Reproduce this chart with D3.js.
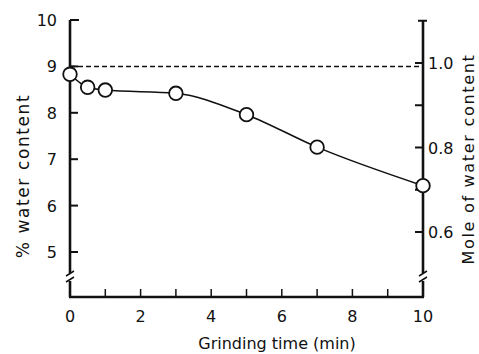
<!DOCTYPE html>
<html>
<head>
<meta charset="utf-8">
<script src="https://cdn.jsdelivr.net/npm/d3@7"></script>
<style>
  body { margin: 0; background: #fff; }
  text { font-family: "DejaVu Sans", sans-serif; fill: #111; }
</style>
</head>
<body>
<div id="chart"></div>
<script>
// data
var grind_time = [0, 0.5, 1, 3, 5, 7, 10];
var water_pct = [8.83, 8.55, 8.49, 8.42, 7.96, 7.26, 6.43];
var x_ticks = [0, 1, 2, 3, 4, 5, 6, 7, 8, 9, 10];
var x_labels = [0, 2, 4, 6, 8, 10];
var left_ticks = [5, 6, 7, 8, 9, 10];
var right_ticks = [0.6, 0.7, 0.8, 0.9, 1.0, 1.1];
var right_labels = [0.6, 0.8, 1.0];
var ref_level = 9;

var width = 479, height = 354;
var svg = d3.select("#chart").append("svg")
  .attr("width", width).attr("height", height);

var x = d3.scaleLinear().domain([0, 10]).range([70, 423]);
var y = d3.scaleLinear().domain([5, 10]).range([252, 20]);
var y2 = d3.scaleLinear().domain([0.6, 1.0]).range([232, 63]);
var y_bottom = 297;
var brk = 277;

var ax = svg.append("g").attr("stroke", "#111").attr("stroke-width", 2.6).attr("fill", "none");

// left axis with break
ax.append("line").attr("x1", x(0)).attr("x2", x(0)).attr("y1", y(10)).attr("y2", brk - 4);
ax.append("line").attr("x1", x(0)).attr("x2", x(0)).attr("y1", brk + 4).attr("y2", y_bottom);
// right axis with break
ax.append("line").attr("x1", x(10)).attr("x2", x(10)).attr("y1", y2(1.1)).attr("y2", brk - 4);
ax.append("line").attr("x1", x(10)).attr("x2", x(10)).attr("y1", brk + 4).attr("y2", y_bottom);
// bottom axis
ax.append("line").attr("x1", x(0) - 1).attr("x2", x(10) + 1).attr("y1", y_bottom).attr("y2", y_bottom);

// break marks
[x(0), x(10)].forEach(function(bx){
  ax.append("path").attr("stroke-width", 1.5)
    .attr("d", "M" + (bx - 4) + "," + (brk - 1) + "L" + (bx + 4) + "," + (brk - 6) +
               "M" + (bx - 4) + "," + (brk + 5) + "L" + (bx + 4) + "," + (brk));
});

// ticks
ax.selectAll(".lt").data(left_ticks).enter().append("line")
  .attr("stroke-width", 2)
  .attr("x1", x(0)).attr("x2", function(d){ return d == 10 ? x(0) + 9 : x(0) + 8; })
  .attr("y1", function(d){ return y(d); }).attr("y2", function(d){ return y(d); });
ax.selectAll(".rt").data(right_ticks).enter().append("line")
  .attr("stroke-width", 2)
  .attr("x1", function(d){ return d > 1.05 ? x(10) - 5 : x(10) - 8; })
  .attr("x2", function(d){ return d > 1.05 ? x(10) + 4 : x(10); })
  .attr("y1", function(d){ return y2(d); }).attr("y2", function(d){ return y2(d); });
ax.selectAll(".xt").data(x_ticks.slice(1, -1)).enter().append("line")
  .attr("stroke-width", 1.5)
  .attr("x1", function(d){ return x(d); }).attr("x2", function(d){ return x(d); })
  .attr("y1", y_bottom).attr("y2", y_bottom - 8);

// tick labels
svg.selectAll(".ll").data(left_ticks).enter().append("text")
  .attr("x", 57).attr("y", function(d){ return y(d) + 6; })
  .attr("text-anchor", "end").attr("font-size", 16)
  .text(function(d){ return d; });
svg.selectAll(".rl").data(right_labels).enter().append("text")
  .attr("x", 428).attr("y", function(d){ return y2(d) + 6; })
  .attr("font-size", 16)
  .text(function(d){ return d.toFixed(1); });
svg.selectAll(".xl").data(x_labels).enter().append("text")
  .attr("x", function(d){ return x(d); }).attr("y", 322)
  .attr("text-anchor", "middle").attr("font-size", 16)
  .text(function(d){ return d; });

// axis titles
svg.append("text").attr("x", 277).attr("y", 349)
  .attr("text-anchor", "middle").attr("font-size", 16)
  .text("Grinding time (min)");
svg.append("text").attr("transform", "translate(29,176) rotate(-90)")
  .attr("text-anchor", "middle").attr("font-size", 17)
  .attr("letter-spacing", 1.6)
  .text("% water content");
svg.append("text").attr("transform", "translate(474,159) rotate(-90)")
  .attr("text-anchor", "middle").attr("font-size", 16)
  .attr("letter-spacing", 1.7)
  .text("Mole of water content");

// dashed reference line
svg.append("line")
  .attr("x1", x(0)).attr("x2", x(10))
  .attr("y1", y(ref_level)).attr("y2", y(ref_level))
  .attr("stroke", "#111").attr("stroke-width", 1.5)
  .attr("stroke-dasharray", "5,3");

// curve through points
var pts = grind_time.map(function(t, i){ return [t, water_pct[i]]; });
var line = d3.line()
  .x(function(d){ return x(d[0]); })
  .y(function(d){ return y(d[1]); })
  .curve(d3.curveMonotoneX);
svg.append("path").datum(pts)
  .attr("d", line)
  .attr("fill", "none").attr("stroke", "#111").attr("stroke-width", 1.6);

svg.selectAll("circle").data(pts).enter().append("circle")
  .attr("cx", function(d){ return x(d[0]); })
  .attr("cy", function(d){ return y(d[1]); })
  .attr("r", 6.8)
  .attr("fill", "#fff").attr("stroke", "#111").attr("stroke-width", 1.8);
</script>
</body>
</html>
